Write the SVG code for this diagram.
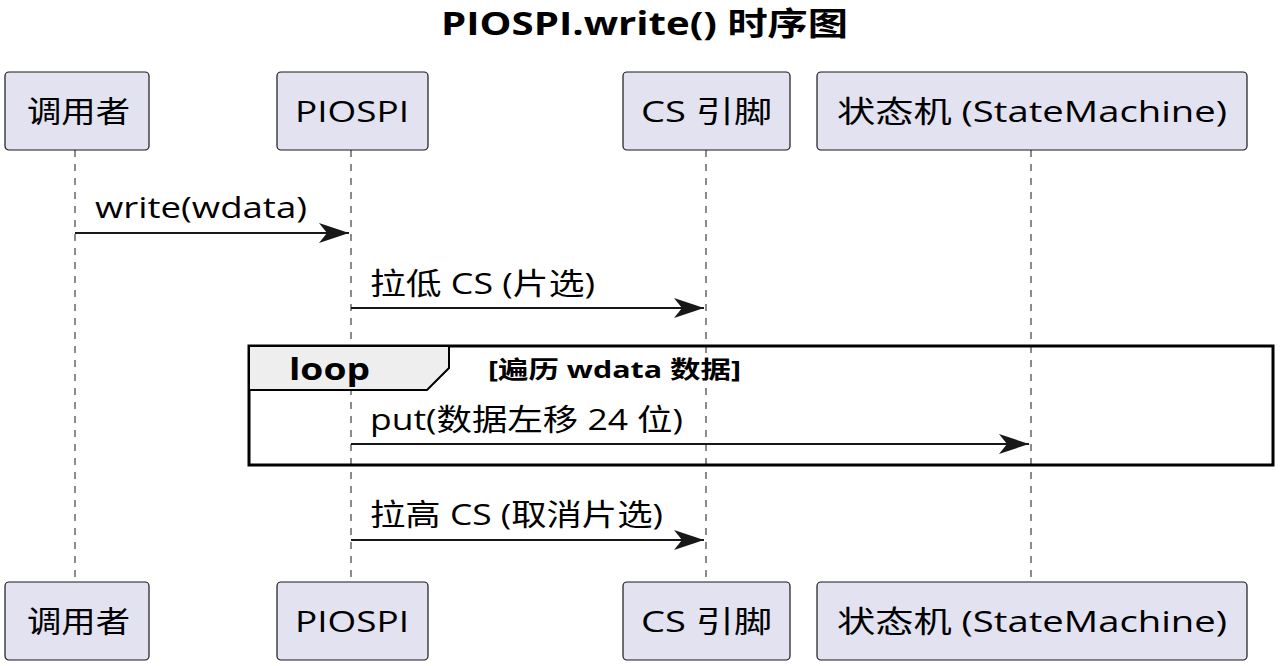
<svg xmlns="http://www.w3.org/2000/svg" width="1280" height="666" viewBox="0 0 1280 666">
<style>
.box{fill:#E2E2F0;stroke:#181818;stroke-width:1.2}
.t{font-family:"Open Sans","Noto Sans CJK SC",sans-serif;font-size:30px;fill:#000}
.life{stroke:#181818;stroke-width:1;stroke-dasharray:7,7}
.msg{stroke:#181818;stroke-width:2;fill:none}
.b{font-weight:bold}
</style>
<defs>
<marker id="ah" markerWidth="32" markerHeight="20" refX="30" refY="10" orient="auto" markerUnits="userSpaceOnUse">
<path d="M0,0 L30,10 L0,20 L8,10 Z" fill="#181818"/>
</marker>
</defs>
<rect width="1280" height="666" fill="#fff"/>
<text class="t b" x="441" y="35" textLength="407" lengthAdjust="spacingAndGlyphs" style="font-size:32px">PIOSPI.write() 时序图</text>
<g id="lifelines">
<line class="life" x1="75" y1="150" x2="75" y2="582"/>
<line class="life" x1="351" y1="150" x2="351" y2="582"/>
<line class="life" x1="706" y1="150" x2="706" y2="582"/>
<line class="life" x1="1031" y1="150" x2="1031" y2="582"/>
</g>
<g id="caller"><rect class="box" x="5" y="72" width="144" height="78" rx="4"/><text class="t" x="27" y="122" textLength="103" lengthAdjust="spacingAndGlyphs">调用者</text>
<rect class="box" x="5" y="582" width="144" height="78" rx="4"/><text class="t" x="27" y="632" textLength="103" lengthAdjust="spacingAndGlyphs">调用者</text></g>
<g id="piospi"><rect class="box" x="277" y="72" width="151" height="78" rx="4"/><text class="t" x="295" y="122" textLength="114" lengthAdjust="spacingAndGlyphs">PIOSPI</text>
<rect class="box" x="277" y="582" width="151" height="78" rx="4"/><text class="t" x="295" y="632" textLength="114" lengthAdjust="spacingAndGlyphs">PIOSPI</text></g>
<g id="cs"><rect class="box" x="623" y="72" width="167" height="78" rx="4"/><text class="t" x="641" y="122" textLength="131" lengthAdjust="spacingAndGlyphs">CS 引脚</text>
<rect class="box" x="623" y="582" width="167" height="78" rx="4"/><text class="t" x="641" y="632" textLength="131" lengthAdjust="spacingAndGlyphs">CS 引脚</text></g>
<g id="sm"><rect class="box" x="817" y="72" width="430" height="78" rx="4"/><text class="t" x="837" y="122" textLength="390" lengthAdjust="spacingAndGlyphs">状态机 (StateMachine)</text>
<rect class="box" x="817" y="582" width="430" height="78" rx="4"/><text class="t" x="837" y="632" textLength="390" lengthAdjust="spacingAndGlyphs">状态机 (StateMachine)</text></g>
<g id="loop">
<rect x="249" y="346" width="1024" height="119" fill="none" stroke="#000" stroke-width="3"/>
<path d="M249,346 L449,346 L449,368 L427,390 L249,390 Z" fill="#EEEEEE" stroke="#000" stroke-width="2"/>
<text class="t b" x="289" y="380" textLength="81" lengthAdjust="spacingAndGlyphs">loop</text>
<text class="t b" x="488" y="378" textLength="253" lengthAdjust="spacingAndGlyphs" style="font-size:24px">[遍历 wdata 数据]</text>
</g>
<g id="connectors">
<line class="msg" x1="75" y1="233" x2="349" y2="233" marker-end="url(#ah)"/>
<text class="t" x="95" y="218" textLength="212" lengthAdjust="spacingAndGlyphs">write(wdata)</text>
<line class="msg" x1="351" y1="308" x2="704" y2="308" marker-end="url(#ah)"/>
<text class="t" x="370" y="294" textLength="225" lengthAdjust="spacingAndGlyphs">拉低 CS (片选)</text>
<line class="msg" x1="351" y1="444" x2="1029" y2="444" marker-end="url(#ah)"/>
<text class="t" x="370" y="430" textLength="313" lengthAdjust="spacingAndGlyphs">put(数据左移 24 位)</text>
<line class="msg" x1="351" y1="540" x2="704" y2="540" marker-end="url(#ah)"/>
<text class="t" x="370" y="525" textLength="293" lengthAdjust="spacingAndGlyphs">拉高 CS (取消片选)</text>
</g>
</svg>
